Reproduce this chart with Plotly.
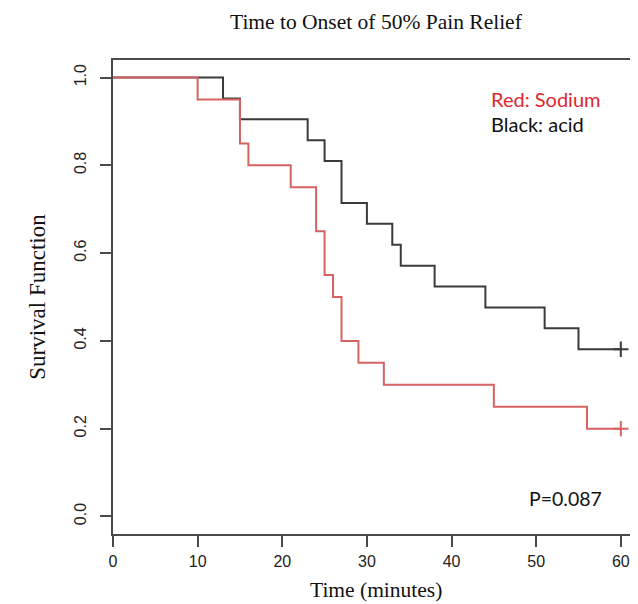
import plotly.graph_objects as go

# Kaplan-Meier step data
black_time = [0, 13, 15, 23, 25, 27, 30, 33, 34, 38, 44, 51, 55, 60]
black_surv = [1.0, 0.952, 0.905, 0.857, 0.810, 0.714, 0.667, 0.619, 0.571, 0.524, 0.476, 0.429, 0.381, 0.381]
red_time = [0, 10, 15, 16, 21, 24, 25, 26, 27, 29, 32, 45, 56, 60]
red_surv = [1.0, 0.95, 0.85, 0.80, 0.75, 0.65, 0.55, 0.50, 0.40, 0.35, 0.30, 0.25, 0.20, 0.20]
censor_black = ([60], [0.381])
censor_red = ([60], [0.20])

x_ticks = [0, 10, 20, 30, 40, 50, 60]
y_ticks = [0.0, 0.2, 0.4, 0.6, 0.8, 1.0]
y_tick_text = ["0.0", "0.2", "0.4", "0.6", "0.8", "1.0"]

BLACK = "#3a3a3a"
RED = "#d66262"
AXIS = "#4a4a4a"

fig = go.Figure()
fig.add_trace(go.Scatter(x=black_time, y=black_surv, mode="lines",
                         line=dict(shape="hv", color=BLACK, width=2), hoverinfo="skip"))
fig.add_trace(go.Scatter(x=red_time, y=red_surv, mode="lines",
                         line=dict(shape="hv", color=RED, width=2), hoverinfo="skip"))
fig.add_trace(go.Scatter(x=censor_black[0], y=censor_black[1], mode="markers",
                         marker=dict(symbol="cross-thin", size=11, line=dict(color=BLACK, width=2))))
fig.add_trace(go.Scatter(x=censor_red[0], y=censor_red[1], mode="markers",
                         marker=dict(symbol="cross-thin", size=11, line=dict(color=RED, width=2))))

fig.update_layout(
    width=638, height=604,
    margin=dict(l=105, r=5, t=52, b=78),
    paper_bgcolor="white", plot_bgcolor="white",
    showlegend=False,
    xaxis=dict(range=[0, 62.15], tickvals=x_ticks, ticks="outside", ticklen=11,
               tickwidth=1.5, tickcolor=AXIS, showline=True, mirror=True,
               linecolor=AXIS, linewidth=1.5, showgrid=False, zeroline=False,
               ticklabelstandoff=1,
               tickfont=dict(family="Liberation Sans, Arial", size=16, color="#222")),
    yaxis=dict(range=[-0.04, 1.04], tickvals=y_ticks, ticktext=y_tick_text,
               ticks="outside", ticklen=11, tickwidth=1.5, tickcolor=AXIS,
               tickangle=-90, showline=True, mirror=True, linecolor=AXIS,
               linewidth=1.5, showgrid=False, zeroline=False,
               ticklabelstandoff=8,
               tickfont=dict(family="Liberation Sans, Arial", size=16, color="#222")),
    annotations=[
        dict(text="Time to Onset of 50% Pain Relief", xref="paper", yref="paper",
             x=0.5, y=1.08, xanchor="center", yanchor="middle", showarrow=False,
             font=dict(family="Liberation Serif, Times New Roman", size=21.5, color="#111")),
        dict(text="Time (minutes)", xref="paper", yref="paper",
             x=0.5, y=-0.119, xanchor="center", yanchor="middle", showarrow=False,
             font=dict(family="Liberation Serif, Times New Roman", size=21.5, color="#111")),
        dict(text="Survival Function", xref="paper", yref="paper",
             x=-0.145, y=0.5, xanchor="center", yanchor="middle", textangle=-90,
             showarrow=False,
             font=dict(family="Liberation Serif, Times New Roman", size=23, color="#111")),
        dict(text="Red: Sodium", xref="x", yref="y", x=44.4, y=0.951,
             xanchor="left", yanchor="middle", showarrow=False,
             font=dict(family="Lato, Open Sans", size=20, color="#e0262e")),
        dict(text="Black: acid", xref="x", yref="y", x=44.4, y=0.895,
             xanchor="left", yanchor="middle", showarrow=False,
             font=dict(family="Lato, Open Sans", size=20, color="#111")),
        dict(text="P=0.087", xref="x", yref="y", x=48.9, y=0.040,
             xanchor="left", yanchor="middle", showarrow=False,
             font=dict(family="Lato, Open Sans", size=19.5, color="#111")),
    ],
)

fig.write_html("out.html")
